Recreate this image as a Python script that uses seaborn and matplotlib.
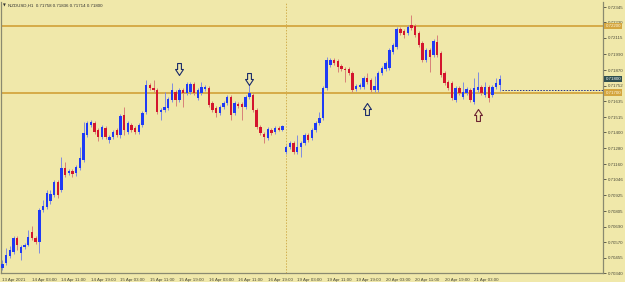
import numpy as np
import pandas as pd
import matplotlib
matplotlib.use("Agg")
from matplotlib import pyplot as plt
from matplotlib import transforms
from matplotlib.path import Path
import seaborn as sns

# NZDUSD H1, 13 Apr 19:00 .. 21 Apr 10:00
opens = [
    0.70377, 0.70415, 0.70468, 0.70498, 0.70603, 0.70490, 0.70536, 0.70551, 0.70649, 0.70603,
    0.70573, 0.70815, 0.70837, 0.70882, 0.70928, 0.71026, 0.70965, 0.71131, 0.71094, 0.71109,
    0.71094, 0.71131, 0.71192, 0.71380, 0.71456, 0.71471, 0.71418, 0.71365, 0.71433, 0.71342,
    0.71365, 0.71418, 0.71380, 0.71531, 0.71403, 0.71456, 0.71433, 0.71403, 0.71456, 0.71554,
    0.71757, 0.71734, 0.71719, 0.71554, 0.71569, 0.71584, 0.71644, 0.71704, 0.71644, 0.71719,
    0.71697, 0.71704, 0.71765, 0.71659, 0.71697, 0.71727, 0.71734, 0.71622, 0.71584, 0.71546,
    0.71591, 0.71622, 0.71667, 0.71546, 0.71614, 0.71614, 0.71591, 0.71667, 0.71682, 0.71569,
    0.71440, 0.71388, 0.71357, 0.71418, 0.71403, 0.71433, 0.71418, 0.71252, 0.71290, 0.71320,
    0.71252, 0.71290, 0.71320, 0.71380, 0.71357, 0.71418, 0.71471, 0.71508, 0.71734, 0.71908,
    0.71946, 0.71938, 0.71900, 0.71878, 0.71878, 0.71848, 0.71727, 0.71742, 0.71742, 0.71810,
    0.71795, 0.71719, 0.71719, 0.71848, 0.71878, 0.71885, 0.72006, 0.72044, 0.72179, 0.72164,
    0.72149, 0.72210, 0.72202, 0.72149, 0.72074, 0.71946, 0.72021, 0.71983, 0.72081, 0.71998,
    0.71848, 0.71780, 0.71772, 0.71644, 0.71734, 0.71667, 0.71697, 0.71719, 0.71629, 0.71719,
    0.71742, 0.71682, 0.71742, 0.71682, 0.71742, 0.71758,
]
closes = [
    0.70407, 0.70475, 0.70513, 0.70603, 0.70551, 0.70536, 0.70551, 0.70611, 0.70603, 0.70573,
    0.70815, 0.70845, 0.70943, 0.70935, 0.71026, 0.70928, 0.71131, 0.71079, 0.71109, 0.71086,
    0.71139, 0.71207, 0.71395, 0.71471, 0.71478, 0.71403, 0.71365, 0.71440, 0.71365, 0.71365,
    0.71403, 0.71380, 0.71524, 0.71418, 0.71471, 0.71418, 0.71403, 0.71456, 0.71546, 0.71757,
    0.71734, 0.71719, 0.71554, 0.71569, 0.71591, 0.71652, 0.71719, 0.71644, 0.71719, 0.71697,
    0.71765, 0.71765, 0.71697, 0.71719, 0.71742, 0.71742, 0.71606, 0.71569, 0.71546, 0.71591,
    0.71622, 0.71667, 0.71531, 0.71622, 0.71599, 0.71591, 0.71667, 0.71697, 0.71569, 0.71440,
    0.71395, 0.71365, 0.71425, 0.71395, 0.71433, 0.71418, 0.71448, 0.71290, 0.71320, 0.71252,
    0.71290, 0.71320, 0.71380, 0.71342, 0.71418, 0.71471, 0.71508, 0.71734, 0.71946, 0.71946,
    0.71923, 0.71893, 0.71878, 0.71870, 0.71848, 0.71719, 0.71750, 0.71757, 0.71810, 0.71780,
    0.71719, 0.71750, 0.71848, 0.71885, 0.71923, 0.72021, 0.72059, 0.72179, 0.72149, 0.72134,
    0.72194, 0.72187, 0.72134, 0.72059, 0.71946, 0.72021, 0.71968, 0.72089, 0.71983, 0.71833,
    0.71772, 0.71734, 0.71659, 0.71734, 0.71697, 0.71704, 0.71727, 0.71644, 0.71734, 0.71742,
    0.71697, 0.71742, 0.71659, 0.71742, 0.71772, 0.71800,
]
highs = [
    0.70438, 0.70528, 0.70543, 0.70619, 0.70619, 0.70551, 0.70566, 0.70664, 0.70694, 0.70619,
    0.70830, 0.70890, 0.70965, 0.70965, 0.71041, 0.71041, 0.71214, 0.71177, 0.71124, 0.71124,
    0.71155, 0.71290, 0.71478, 0.71486, 0.71493, 0.71486, 0.71433, 0.71456, 0.71448, 0.71380,
    0.71418, 0.71433, 0.71539, 0.71591, 0.71486, 0.71471, 0.71448, 0.71471, 0.71561, 0.71795,
    0.71772, 0.71795, 0.71734, 0.71584, 0.71704, 0.71667, 0.71772, 0.71719, 0.71734, 0.71734,
    0.71780, 0.71780, 0.71780, 0.71734, 0.71780, 0.71757, 0.71750, 0.71636, 0.71599, 0.71606,
    0.71636, 0.71682, 0.71682, 0.71636, 0.71629, 0.71629, 0.71682, 0.71765, 0.71697, 0.71584,
    0.71456, 0.71403, 0.71440, 0.71433, 0.71448, 0.71448, 0.71456, 0.71305, 0.71335, 0.71335,
    0.71380, 0.71335, 0.71395, 0.71395, 0.71433, 0.71486, 0.71554, 0.71750, 0.71968, 0.71961,
    0.71961, 0.71953, 0.71915, 0.71893, 0.71893, 0.71863, 0.71765, 0.71772, 0.71825, 0.71848,
    0.71810, 0.71825, 0.71863, 0.71900, 0.71938, 0.72036, 0.72074, 0.72194, 0.72194, 0.72179,
    0.72210, 0.72285, 0.72217, 0.72164, 0.72089, 0.72036, 0.72036, 0.72104, 0.72134, 0.72013,
    0.71863, 0.71795, 0.71787, 0.71750, 0.71750, 0.71780, 0.71742, 0.71734, 0.71810, 0.71855,
    0.71757, 0.71780, 0.71757, 0.71757, 0.71810, 0.71836,
]
lows = [
    0.70362, 0.70400, 0.70453, 0.70483, 0.70513, 0.70438, 0.70521, 0.70543, 0.70588, 0.70558,
    0.70490, 0.70800, 0.70822, 0.70860, 0.70913, 0.70905, 0.70950, 0.71063, 0.71079, 0.71063,
    0.71071, 0.71116, 0.71177, 0.71365, 0.71440, 0.71388, 0.71335, 0.71350, 0.71350, 0.71320,
    0.71350, 0.71365, 0.71357, 0.71380, 0.71388, 0.71403, 0.71388, 0.71388, 0.71440, 0.71539,
    0.71719, 0.71704, 0.71539, 0.71493, 0.71554, 0.71569, 0.71629, 0.71599, 0.71629, 0.71591,
    0.71682, 0.71689, 0.71682, 0.71644, 0.71682, 0.71712, 0.71591, 0.71554, 0.71516, 0.71531,
    0.71576, 0.71606, 0.71493, 0.71531, 0.71584, 0.71493, 0.71576, 0.71652, 0.71554, 0.71425,
    0.71380, 0.71320, 0.71342, 0.71380, 0.71388, 0.71410, 0.71410, 0.71237, 0.71275, 0.71237,
    0.71237, 0.71214, 0.71305, 0.71327, 0.71342, 0.71403, 0.71456, 0.71493, 0.71719, 0.71893,
    0.71908, 0.71855, 0.71863, 0.71780, 0.71833, 0.71704, 0.71712, 0.71727, 0.71727, 0.71765,
    0.71704, 0.71704, 0.71704, 0.71833, 0.71863, 0.71870, 0.71991, 0.72029, 0.72134, 0.72111,
    0.72134, 0.72172, 0.72119, 0.72044, 0.71931, 0.71931, 0.71855, 0.71968, 0.71968, 0.71818,
    0.71757, 0.71719, 0.71644, 0.71629, 0.71682, 0.71652, 0.71682, 0.71629, 0.71614, 0.71704,
    0.71682, 0.71667, 0.71629, 0.71667, 0.71727, 0.71714,
]

time_labels = [
    "13 Apr 2021", "14 Apr 03:00", "14 Apr 11:00", "14 Apr 19:00", "15 Apr 03:00",
    "15 Apr 11:00", "15 Apr 19:00", "16 Apr 03:00", "16 Apr 11:00", "16 Apr 19:00",
    "19 Apr 03:00", "19 Apr 11:00", "19 Apr 19:00", "20 Apr 03:00", "20 Apr 11:00",
    "20 Apr 19:00", "21 Apr 03:00",
]
price_ticks = [
    0.72345, 0.72230, 0.72115, 0.71990, 0.71870, 0.71752, 0.71635, 0.71515, 0.71400,
    0.71280, 0.71160, 0.71046, 0.70925, 0.70805, 0.70690, 0.70570, 0.70455, 0.70340,
]
levels = [0.72200, 0.71700]
bid = 0.71800
dotted_level = 0.71722
week_start = 77  # 19 Apr 00:00 candle

arrow_idx = [48, 67, 99, 129]
arrow_price = [0.71878, 0.71806, 0.71576, 0.71531]
arrow_dir = ["down", "down", "up", "up"]

sns.set_style("white")
plt.rcParams["font.family"] = ["Liberation Sans", "DejaVu Sans"]

bg = "#F0E8AA"
gold = "#D4A640"
txt = "#4A4A3A"
fs = 3.2

df = pd.DataFrame({"open": opens, "high": highs, "low": lows, "close": closes})
df["idx"] = np.arange(len(df))
df["bull"] = df["close"] >= df["open"]

fig = plt.figure(figsize=(6.25, 2.82), dpi=100, facecolor=bg)
ax = fig.add_axes([0.0024, 0.0319, 0.9624, 0.961])
ax.set_facecolor(bg)

# levels and separators
for lvl in levels:
    ax.axhline(lvl, color=gold, lw=1.3, zorder=1)
ax.axvline(week_start, color="#D2B050", ls=(0, (1.5, 1.5)), lw=0.7, zorder=1)
ax.hlines(dotted_level, len(df) - 0.5, 200, color="#1A2A8A", ls=(0, (1.5, 1.5)), lw=0.7, zorder=1)

# candles
for bull, g in df.groupby("bull"):
    body = "#1F3BF5" if bull else "#D3152E"
    wick = "#7F8CE0" if bull else "#D88078"
    ax.vlines(g["idx"], g["low"], g["high"], color=wick, lw=0.7, zorder=2)
    height = (g["close"] - g["open"]).abs().clip(lower=0.000015)
    bottom = g[["open", "close"]].min(axis=1)
    ax.bar(g["idx"], height, bottom=bottom, width=0.65, color=body, lw=0, zorder=3)

# hollow block arrows
down_verts = [(-0.16, 0.5), (0.16, 0.5), (0.16, 0.0), (0.33, 0.0), (0.0, -0.5),
              (-0.33, 0.0), (-0.16, 0.0), (-0.16, 0.5)]
down_path = Path(down_verts, closed=True)
up_path = Path([(x, -y) for x, y in down_verts], closed=True)
arrow_cols = ["#1A2A6A", "#1A2A6A", "#1A2A6A", "#6B2230"]
for i, p, d, c in zip(arrow_idx, arrow_price, arrow_dir, arrow_cols):
    ax.plot([i], [p], marker=down_path if d == "down" else up_path, ms=8.6,
            mfc="none", mec=c, mew=0.8, ls="none", zorder=4)

ax.set_xlim(-0.27, 163.0)
ax.set_ylim(0.70340, 0.72383)

ax.yaxis.tick_right()
ax.set_yticks(price_ticks)
ax.set_yticklabels([f"{v:.5f}" for v in price_ticks])
ax.set_xticks(range(0, 8 * len(time_labels), 8))
ax.set_xticklabels(time_labels, ha="left")
ax.tick_params(axis="y", labelsize=fs, colors=txt, length=2.5, width=0.6, pad=1.2, direction="out")
ax.tick_params(axis="x", labelsize=fs, colors=txt, length=3, width=0.6, pad=0.8, direction="out")

for side in ["left", "right", "bottom"]:
    ax.spines[side].set_color("#8A8A70")
    ax.spines[side].set_linewidth(0.9)
ax.spines["top"].set_visible(False)

# price labels on the right scale
trans = transforms.blended_transform_factory(ax.transAxes, ax.transData)
for lvl in levels:
    ax.text(1.004, lvl, f"{lvl:.5f}", transform=trans, fontsize=fs, color="#FFF8E0",
            va="center", ha="left", clip_on=False, zorder=6,
            bbox=dict(boxstyle="square,pad=0.25", fc=gold, ec="none"))
ax.text(1.004, bid, f"{bid:.5f}", transform=trans, fontsize=fs, color="white",
        va="center", ha="left", clip_on=False, zorder=6,
        bbox=dict(boxstyle="square,pad=0.25", fc="#2F4F4F", ec="none"))

fig.text(0.004, 0.988, "\u25bc", fontsize=2.6, color="#303030", va="top", ha="left",
         family=["DejaVu Sans"])
fig.text(0.013, 0.988, f"NZDUSD,H1  {opens[-1]:.5f} {highs[-1]:.5f} {lows[-1]:.5f} {closes[-1]:.5f}",
         fontsize=fs, color="#303030", va="top", ha="left")

fig.savefig("out.png", dpi=100, facecolor=bg)
